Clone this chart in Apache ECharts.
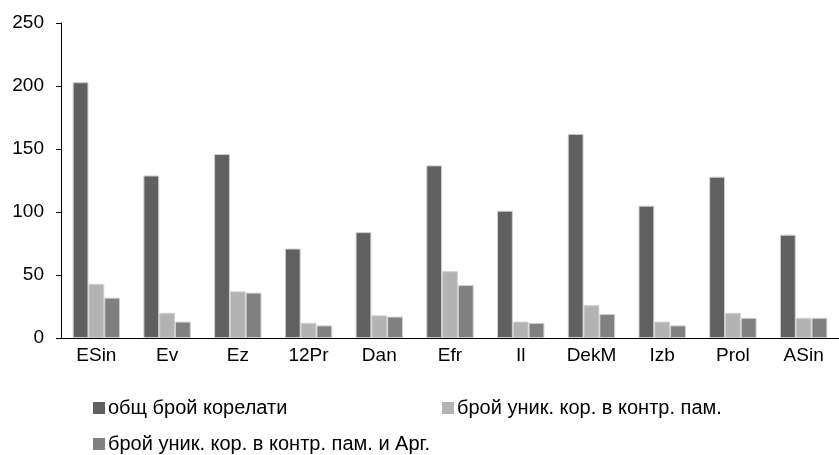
<!DOCTYPE html>
<html>
<head>
<meta charset="utf-8">
<script src="https://cdn.jsdelivr.net/npm/echarts@6/dist/echarts.min.js"></script>
<style>html,body{margin:0;padding:0;background:#fff}#c{width:839px;height:455px}</style>
</head>
<body>
<div id="c"></div>
<script>
var categories = ['ESin','Ev','Ez','12Pr','Dan','Efr','Il','DekM','Izb','Prol','ASin'];
var seriesNames = ['общ брой корелати','брой уник. кор. в контр. пам.','брой уник. кор. в контр. пам. и Арг.'];
var totalCorr = [203,129,146,71,84,137,101,162,105,128,82];
var uniqueCtrl = [43,20,37,12,18,53,13,26,13,20,16];
var uniqueCtrlArg = [32,13,36,10,17,42,12,19,10,16,16];
var yTicks = [0,50,100,150,200,250];

var colors = ['#606060','#b3b3b3','#808080'];
var font = 'Liberation Sans, Arial, sans-serif';
var chart = echarts.init(document.getElementById('c'), null, {renderer:'canvas'});
function mkSeries(i, data){
  return {name: seriesNames[i], type:'bar', data:data, barGap:'0%', barCategoryGap:'33%',
    itemStyle:{color:colors[i], borderColor:'#cfcfcf', borderWidth:1}, animation:false};
}
function mkLegend(i, left, top){
  return {data:[seriesNames[i]], left:left, top:top, itemWidth:12, itemHeight:12, itemGap:0, padding:0,
    icon:'rect', itemStyle:{borderWidth:0},
    textStyle:{fontFamily:font, fontSize:20, color:'#000', padding:[0,0,0,-2]}};
}
chart.setOption({
  animation:false,
  color: colors,
  grid:{left:61, top:23, width:781, height:315, containLabel:false},
  legend:[mkLegend(0,93,398), mkLegend(1,442,398), mkLegend(2,93,434)],
  xAxis:{type:'category', data:categories, boundaryGap:true,
    axisLine:{lineStyle:{color:'#000',width:1}},
    axisTick:{alignWithLabel:true, length:5, lineStyle:{color:'#000'}},
    axisLabel:{fontFamily:font, fontSize:19, color:'#000', margin:8}},
  yAxis:{type:'value', min:yTicks[0], max:yTicks[yTicks.length-1], interval:50,
    splitLine:{show:false},
    axisLine:{show:true, lineStyle:{color:'#000',width:1}},
    axisTick:{show:true, length:5, lineStyle:{color:'#000'}},
    axisLabel:{fontFamily:font, fontSize:19, color:'#000', margin:17}},
  series:[mkSeries(0,totalCorr), mkSeries(1,uniqueCtrl), mkSeries(2,uniqueCtrlArg)]
});
</script>
</body>
</html>
